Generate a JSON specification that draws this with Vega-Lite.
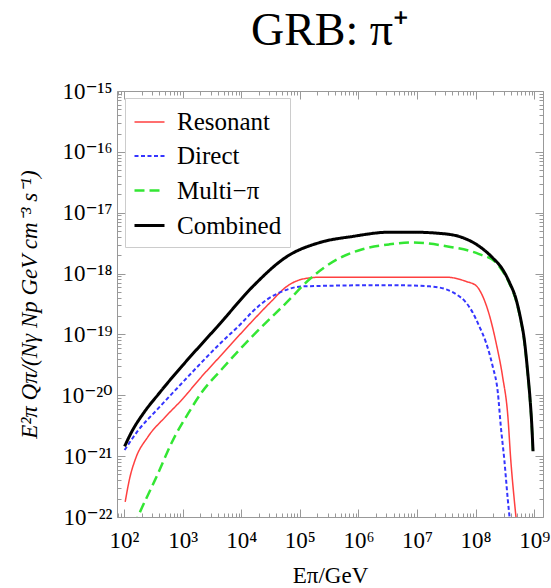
{
  "$schema": "https://vega.github.io/schema/vega-lite/v6.json",
  "autosize": {"type": "none"},
  "width": 426,
  "height": 426,
  "padding": {"left": 117, "top": 91, "right": 8, "bottom": 71},
  "background": "white",
  "title": {"text": "GRB: π⁺", "fontSize": 46, "font": "Liberation Serif", "fontWeight": "normal", "color": "black", "offset": 25, "anchor": "middle", "frame": "group"},
  "config": {
    "font": "Liberation Serif",
    "view": {"stroke": "#999999", "strokeWidth": 1},
    "axis": {"grid": false, "domain": false, "tickColor": "#999999", "tickWidth": 1, "labelFont": "Liberation Serif, DejaVu Serif", "labelFontSize": 23, "labelColor": "black", "labelOverlap": false, "labelFlush": false, "labelBound": false, "titleFont": "Liberation Serif", "titleFontSize": 23, "titleFontWeight": "normal", "titleColor": "black"}
  },
  "data": {"values": [
    {"s": "Resonant", "e": 1.047e2, "q": 1.778e-22},
    {"s": "Resonant", "e": 1.259e2, "q": 4.467e-22},
    {"s": "Resonant", "e": 1.549e2, "q": 8.710e-22},
    {"s": "Resonant", "e": 2.570e2, "q": 2.089e-21},
    {"s": "Resonant", "e": 5.012e2, "q": 4.365e-21},
    {"s": "Resonant", "e": 9.772e2, "q": 8.511e-21},
    {"s": "Resonant", "e": 1.995e3, "q": 1.905e-20},
    {"s": "Resonant", "e": 4.365e3, "q": 4.365e-20},
    {"s": "Resonant", "e": 1.585e4, "q": 1.698e-19},
    {"s": "Resonant", "e": 3.162e4, "q": 3.388e-19},
    {"s": "Resonant", "e": 6.026e4, "q": 6.166e-19},
    {"s": "Resonant", "e": 1.122e5, "q": 8.128e-19},
    {"s": "Resonant", "e": 2.188e5, "q": 8.710e-19},
    {"s": "Resonant", "e": 3.388e6, "q": 8.710e-19},
    {"s": "Resonant", "e": 3.162e7, "q": 8.710e-19},
    {"s": "Resonant", "e": 6.918e7, "q": 7.413e-19},
    {"s": "Resonant", "e": 1.023e8, "q": 6.310e-19},
    {"s": "Resonant", "e": 1.318e8, "q": 4.266e-19},
    {"s": "Resonant", "e": 1.738e8, "q": 1.995e-19},
    {"s": "Resonant", "e": 2.239e8, "q": 7.244e-20},
    {"s": "Resonant", "e": 2.884e8, "q": 2.042e-20},
    {"s": "Resonant", "e": 3.548e8, "q": 4.571e-21},
    {"s": "Resonant", "e": 3.981e8, "q": 8.710e-22},
    {"s": "Resonant", "e": 4.571e8, "q": 1.905e-22},
    {"s": "Resonant", "e": 5.012e8, "q": 7.943e-23},
    {"s": "Direct", "e": 1.023e2, "q": 1.259e-21},
    {"s": "Direct", "e": 1.738e2, "q": 2.630e-21},
    {"s": "Direct", "e": 3.802e2, "q": 6.026e-21},
    {"s": "Direct", "e": 8.318e2, "q": 1.349e-20},
    {"s": "Direct", "e": 4.365e3, "q": 7.079e-20},
    {"s": "Direct", "e": 1.0e4, "q": 1.514e-19},
    {"s": "Direct", "e": 1.585e4, "q": 2.399e-19},
    {"s": "Direct", "e": 2.818e4, "q": 3.802e-19},
    {"s": "Direct", "e": 4.571e4, "q": 4.898e-19},
    {"s": "Direct", "e": 1.122e5, "q": 6.166e-19},
    {"s": "Direct", "e": 3.388e6, "q": 6.457e-19},
    {"s": "Direct", "e": 1.622e7, "q": 6.166e-19},
    {"s": "Direct", "e": 3.162e7, "q": 5.495e-19},
    {"s": "Direct", "e": 4.677e7, "q": 4.571e-19},
    {"s": "Direct", "e": 6.918e7, "q": 3.311e-19},
    {"s": "Direct", "e": 8.913e7, "q": 2.291e-19},
    {"s": "Direct", "e": 1.148e8, "q": 1.380e-19},
    {"s": "Direct", "e": 1.514e8, "q": 7.244e-20},
    {"s": "Direct", "e": 1.950e8, "q": 3.020e-20},
    {"s": "Direct", "e": 2.399e8, "q": 1.096e-20},
    {"s": "Direct", "e": 2.692e8, "q": 3.090e-21},
    {"s": "Direct", "e": 3.090e8, "q": 8.710e-22},
    {"s": "Direct", "e": 3.548e8, "q": 1.905e-22},
    {"s": "Direct", "e": 3.890e8, "q": 7.943e-23},
    {"s": "Multi−π", "e": 1.479e2, "q": 7.079e-23},
    {"s": "Multi−π", "e": 1.738e2, "q": 1.023e-22},
    {"s": "Multi−π", "e": 3.388e2, "q": 4.074e-22},
    {"s": "Multi−π", "e": 7.413e2, "q": 2.138e-21},
    {"s": "Multi−π", "e": 1.259e3, "q": 5.129e-21},
    {"s": "Multi−π", "e": 2.089e3, "q": 1.096e-20},
    {"s": "Multi−π", "e": 4.571e3, "q": 2.630e-20},
    {"s": "Multi−π", "e": 1.698e4, "q": 1.023e-19},
    {"s": "Multi−π", "e": 6.026e4, "q": 3.388e-19},
    {"s": "Multi−π", "e": 1.479e5, "q": 8.128e-19},
    {"s": "Multi−π", "e": 4.266e5, "q": 1.698e-18},
    {"s": "Multi−π", "e": 1.175e6, "q": 2.512e-18},
    {"s": "Multi−π", "e": 3.388e6, "q": 3.020e-18},
    {"s": "Multi−π", "e": 8.318e6, "q": 3.236e-18},
    {"s": "Multi−π", "e": 3.162e7, "q": 2.818e-18},
    {"s": "Multi−π", "e": 1.148e8, "q": 2.089e-18},
    {"s": "Multi−π", "e": 2.239e8, "q": 1.514e-18},
    {"s": "Multi−π", "e": 2.884e8, "q": 1.096e-18},
    {"s": "Multi−π", "e": 3.802e8, "q": 6.761e-19},
    {"s": "Multi−π", "e": 4.898e8, "q": 3.631e-19},
    {"s": "Multi−π", "e": 5.888e8, "q": 1.698e-19},
    {"s": "Multi−π", "e": 6.761e8, "q": 7.943e-20},
    {"s": "Multi−π", "e": 7.762e8, "q": 2.239e-20},
    {"s": "Multi−π", "e": 8.511e8, "q": 8.128e-21},
    {"s": "Multi−π", "e": 9.120e8, "q": 2.951e-21},
    {"s": "Multi−π", "e": 9.550e8, "q": 1.148e-21},
    {"s": "Combined", "e": 1.023e2, "q": 1.445e-21},
    {"s": "Combined", "e": 1.318e2, "q": 2.399e-21},
    {"s": "Combined", "e": 2.239e2, "q": 5.370e-21},
    {"s": "Combined", "e": 3.802e2, "q": 1.023e-20},
    {"s": "Combined", "e": 5.623e2, "q": 1.622e-20},
    {"s": "Combined", "e": 9.772e2, "q": 3.020e-20},
    {"s": "Combined", "e": 4.365e3, "q": 1.514e-19},
    {"s": "Combined", "e": 1.585e4, "q": 6.166e-19},
    {"s": "Combined", "e": 6.026e4, "q": 1.905e-18},
    {"s": "Combined", "e": 2.188e5, "q": 3.236e-18},
    {"s": "Combined", "e": 7.943e5, "q": 4.074e-18},
    {"s": "Combined", "e": 3.388e6, "q": 4.786e-18},
    {"s": "Combined", "e": 8.318e6, "q": 4.786e-18},
    {"s": "Combined", "e": 3.162e7, "q": 4.467e-18},
    {"s": "Combined", "e": 6.026e7, "q": 3.890e-18},
    {"s": "Combined", "e": 1.148e8, "q": 2.818e-18},
    {"s": "Combined", "e": 1.950e8, "q": 1.820e-18},
    {"s": "Combined", "e": 2.884e8, "q": 1.175e-18},
    {"s": "Combined", "e": 3.802e8, "q": 7.079e-19},
    {"s": "Combined", "e": 4.898e8, "q": 3.802e-19},
    {"s": "Combined", "e": 5.888e8, "q": 1.778e-19},
    {"s": "Combined", "e": 6.761e8, "q": 8.318e-20},
    {"s": "Combined", "e": 7.762e8, "q": 2.344e-20},
    {"s": "Combined", "e": 8.511e8, "q": 8.511e-21},
    {"s": "Combined", "e": 9.120e8, "q": 3.090e-21},
    {"s": "Combined", "e": 9.550e8, "q": 1.202e-21}
  ]},
  "resolve": {"scale": {"x": "independent", "y": "independent"}},
  "layer": [
    {
      "mark": {"type": "line", "clip": true, "interpolate": "monotone"},
      "encoding": {
        "x": {"field": "e", "type": "quantitative",
          "scale": {"type": "log", "domain": [75.9, 1.413e9], "nice": false},
          "axis": {"orient": "bottom", "title": "Eπ/GeV", "titlePadding": 8, "titleFontSize": 23,
            "values": [80,90,100,200,300,400,500,600,700,800,900,1000,2000,3000,4000,5000,6000,7000,8000,9000,1e4,2e4,3e4,4e4,5e4,6e4,7e4,8e4,9e4,1e5,2e5,3e5,4e5,5e5,6e5,7e5,8e5,9e5,1e6,2e6,3e6,4e6,5e6,6e6,7e6,8e6,9e6,1e7,2e7,3e7,4e7,5e7,6e7,7e7,8e7,9e7,1e8,2e8,3e8,4e8,5e8,6e8,7e8,8e8,9e8,1e9],
            "tickSize": {"condition": {"test": "abs(log(datum.value)/LN10 - round(log(datum.value)/LN10)) < 0.01", "value": -8}, "value": -4},
            "labelPadding": 20,
            "labelExpr": "abs(log(datum.value)/LN10 - round(log(datum.value)/LN10)) > 0.01 ? '' : '10' + ['⁰','¹','²','³','⁴','⁵','⁶','⁷','⁸','⁹'][round(log(datum.value)/LN10)]"}},
        "y": {"field": "q", "type": "quantitative",
          "scale": {"type": "log", "domain": [1e-22, 1e-15], "nice": false},
          "axis": {"orient": "left", "title": "E²π Qπ/(Nγ Np GeV cm⁻³ s⁻¹)", "titleFontStyle": "italic", "titleFontSize": 23, "titlePadding": 19,
            "values": [1e-22,2e-22,3e-22,4e-22,5e-22,6e-22,7e-22,8e-22,9e-22,1e-21,2e-21,3e-21,4e-21,5e-21,6e-21,7e-21,8e-21,9e-21,1e-20,2e-20,3e-20,4e-20,5e-20,6e-20,7e-20,8e-20,9e-20,1e-19,2e-19,3e-19,4e-19,5e-19,6e-19,7e-19,8e-19,9e-19,1e-18,2e-18,3e-18,4e-18,5e-18,6e-18,7e-18,8e-18,9e-18,1e-17,2e-17,3e-17,4e-17,5e-17,6e-17,7e-17,8e-17,9e-17,1e-16,2e-16,3e-16,4e-16,5e-16,6e-16,7e-16,8e-16,9e-16,1e-15],
            "tickSize": {"condition": {"test": "abs(log(datum.value)/LN10 - round(log(datum.value)/LN10)) < 0.01", "value": -8}, "value": -4},
            "labelPadding": 13,
            "labelExpr": "abs(log(datum.value)/LN10 - round(log(datum.value)/LN10)) > 0.01 ? '' : '10⁻' + ['⁰','¹','²','³','⁴','⁵','⁶','⁷','⁸','⁹'][floor(-round(log(datum.value)/LN10)/10)] + ['⁰','¹','²','³','⁴','⁵','⁶','⁷','⁸','⁹'][(-round(log(datum.value)/LN10)) % 10]"}},
        "color": {"field": "s", "type": "nominal",
          "scale": {"domain": ["Resonant", "Direct", "Multi−π", "Combined"], "range": ["#ff4040", "#3535ff", "#33e633", "#000000"]},
          "legend": {"orient": "none", "legendX": 8, "legendY": 7, "title": null, "symbolType": "stroke", "symbolSize": 900, "labelFontSize": 25, "labelFont": "Liberation Serif", "labelColor": "black", "strokeColor": "#cccccc", "fillColor": "white", "padding": 8, "rowPadding": 5, "labelOffset": 11}},
        "strokeDash": {"field": "s", "type": "nominal",
          "scale": {"domain": ["Resonant", "Direct", "Multi−π", "Combined"], "range": [[1, 0], [4, 2.5], [10, 5], [1, 0]]}},
        "strokeWidth": {"field": "s", "type": "nominal",
          "scale": {"domain": ["Resonant", "Direct", "Multi−π", "Combined"], "range": [1.5, 3, 3, 3]}}
      }
    },
    {
      "mark": {"type": "point", "opacity": 0, "size": 0},
      "encoding": {
        "x": {"field": "e", "type": "quantitative",
          "scale": {"type": "log", "domain": [75.9, 1.413e9], "nice": false},
          "axis": {"orient": "top", "title": null, "labels": false,
            "values": [80,90,100,200,300,400,500,600,700,800,900,1000,2000,3000,4000,5000,6000,7000,8000,9000,1e4,2e4,3e4,4e4,5e4,6e4,7e4,8e4,9e4,1e5,2e5,3e5,4e5,5e5,6e5,7e5,8e5,9e5,1e6,2e6,3e6,4e6,5e6,6e6,7e6,8e6,9e6,1e7,2e7,3e7,4e7,5e7,6e7,7e7,8e7,9e7,1e8,2e8,3e8,4e8,5e8,6e8,7e8,8e8,9e8,1e9],
            "tickSize": {"condition": {"test": "abs(log(datum.value)/LN10 - round(log(datum.value)/LN10)) < 0.01", "value": -8}, "value": -4}}},
        "y": {"field": "q", "type": "quantitative",
          "scale": {"type": "log", "domain": [1e-22, 1e-15], "nice": false},
          "axis": {"orient": "right", "title": null, "labels": false,
            "values": [1e-22,2e-22,3e-22,4e-22,5e-22,6e-22,7e-22,8e-22,9e-22,1e-21,2e-21,3e-21,4e-21,5e-21,6e-21,7e-21,8e-21,9e-21,1e-20,2e-20,3e-20,4e-20,5e-20,6e-20,7e-20,8e-20,9e-20,1e-19,2e-19,3e-19,4e-19,5e-19,6e-19,7e-19,8e-19,9e-19,1e-18,2e-18,3e-18,4e-18,5e-18,6e-18,7e-18,8e-18,9e-18,1e-17,2e-17,3e-17,4e-17,5e-17,6e-17,7e-17,8e-17,9e-17,1e-16,2e-16,3e-16,4e-16,5e-16,6e-16,7e-16,8e-16,9e-16,1e-15],
            "tickSize": {"condition": {"test": "abs(log(datum.value)/LN10 - round(log(datum.value)/LN10)) < 0.01", "value": -8}, "value": -4}}}
      }
    }
  ]
}
